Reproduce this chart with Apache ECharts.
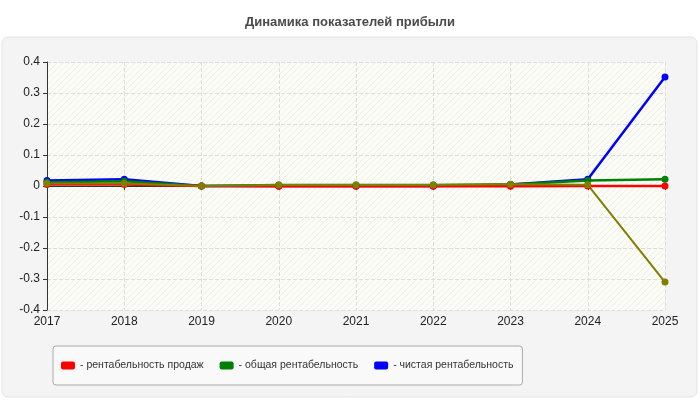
<!DOCTYPE html>
<html>
<head>
    <meta charset="utf-8" />
    <title>Динамика показателей прибыли</title>
    <script src="https://cdn.jsdelivr.net/npm/echarts@6/dist/echarts.min.js"></script>
</head>
<body style="margin:0; background:#fff;">
    <div style="width: 700px; height: 400px;" id="container"></div>

<script type="text/javascript">

    var years = ['2017', '2018', '2019', '2020', '2021', '2022', '2023', '2024', '2025'];
    var yTicks = [-0.4, -0.3, -0.2, -0.1, 0, 0.1, 0.2, 0.3, 0.4];

    // значения
    var salesProfit = [0.005, 0.005, 0, -0.001, -0.001, -0.001, -0.001, 0, 0];
    var totalProfit = [0.012, 0.015, 0, 0.003, 0.003, 0.003, 0.005, 0.018, 0.022];
    var netProfit = [0.018, 0.022, 0, 0, 0, 0, 0.005, 0.022, 0.352];
    var otherProfit = [0.008, 0.008, 0, 0.003, 0.003, 0.003, 0.006, 0.004, -0.31];

    var fontName = '"Liberation Sans", Arial, sans-serif';

    // штриховка фона области графика
    var hatch = document.createElement('canvas');
    hatch.width = 6;
    hatch.height = 6;
    var hc = hatch.getContext('2d');
    hc.fillStyle = '#fcfcf7';
    hc.fillRect(0, 0, 6, 6);
    hc.strokeStyle = '#efefea';
    hc.lineWidth = 1;
    hc.beginPath();
    hc.moveTo(0, 6); hc.lineTo(6, 0);
    hc.moveTo(-1, 1); hc.lineTo(1, -1);
    hc.moveTo(5, 7); hc.lineTo(7, 5);
    hc.stroke();

    function line(name, data, color, width) {
        return {
            name: name,
            type: 'line',
            data: data,
            symbol: 'circle',
            symbolSize: 7,
            showSymbol: true,
            lineStyle: { color: color, width: width },
            itemStyle: { color: color },
            animation: false
        };
    }

    var chart = echarts.init(document.getElementById('container'));

    chart.setOption({
        backgroundColor: '#ffffff',
        title: {
            text: 'Динамика показателей прибыли',
            left: 'center',
            top: 11,
            textStyle: { fontFamily: fontName, fontSize: 13, fontWeight: 'bold', color: '#4a4a4a' }
        },
        graphic: [{
            type: 'rect',
            z: -10,
            shape: { x: 2, y: 37, width: 695, height: 360, r: 6 },
            style: { fill: '#f4f4f4', stroke: '#e4e4e4', lineWidth: 1 }
        }],
        legend: {
            data: ['- рентабельность продаж', '- общая рентабельность', '- чистая рентабельность'],
            left: 53,
            top: 346,
            padding: [14, 9, 14, 8],
            itemGap: 16,
            itemWidth: 14,
            itemHeight: 8,
            itemTextGap: 2,
            icon: 'roundRect',
            backgroundColor: '#f9f9f9',
            borderColor: '#aaaaaa',
            borderWidth: 1,
            borderRadius: 3,
            textStyle: { fontFamily: fontName, fontSize: 10.5, color: '#333' }
        },
        grid: {
            left: 47,
            right: 35,
            top: 62,
            bottom: 90,
            show: true,
            backgroundColor: { image: hatch, repeat: 'repeat' },
            borderWidth: 0
        },
        xAxis: {
            type: 'category',
            data: years,
            boundaryGap: false,
            axisLine: { lineStyle: { color: '#333', width: 1 } },
            axisTick: { show: true, length: 4, lineStyle: { color: '#333' } },
            axisLabel: { fontFamily: fontName, fontSize: 12, color: '#222', margin: 6 },
            splitLine: { show: true, lineStyle: { type: 'dashed', color: '#dddddd' } }
        },
        yAxis: {
            type: 'value',
            min: yTicks[0],
            max: yTicks[yTicks.length - 1],
            interval: 0.1,
            axisLine: { show: true, lineStyle: { color: '#333', width: 1 } },
            axisTick: { show: true, length: 4, lineStyle: { color: '#333' } },
            axisLabel: {
                fontFamily: fontName, fontSize: 12, color: '#222', margin: 7,
                formatter: function (v) { return String(Math.round(v * 10) / 10); }
            },
            splitLine: { show: true, lineStyle: { type: 'dashed', color: '#dddddd' } }
        },
        // порядок отрисовки: синяя снизу, оливковая сверху
        series: [
            line('- чистая рентабельность', netProfit, '#0000ff', 2.5),
            line('- общая рентабельность', totalProfit, '#008000', 2.5),
            line('- рентабельность продаж', salesProfit, '#ff0000', 2.5),
            line('прочее', otherProfit, '#808000', 2)
        ]
    });

</script>
</body>
</html>
